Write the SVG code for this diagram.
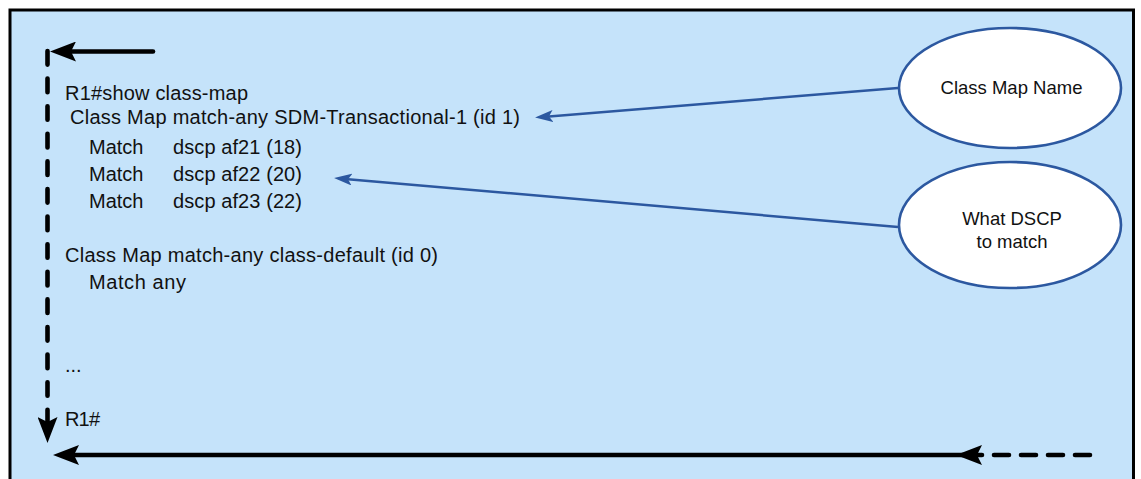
<svg xmlns="http://www.w3.org/2000/svg" width="1141" height="479" viewBox="0 0 1141 479">
  <style>
    .panel { fill: #c5e3fa; stroke: #000; stroke-width: 3; }
    .cli { font-family: "Liberation Sans", Arial, sans-serif; font-size: 20px; fill: #111; }
    .callout { fill: #fff; stroke: #2c58a0; stroke-width: 2.6; }
    .callout-text { font-family: "Liberation Sans", Arial, sans-serif; font-size: 18.5px; fill: #111; text-anchor: middle; }
    .flow { fill: none; stroke: #000; stroke-width: 4.6; stroke-linecap: round; }
    .flow-dash-v { stroke-dasharray: 13.6 14; }
    .flow-dash-h { stroke-dasharray: 15 12; }
    .pointer { fill: none; stroke: #2c58a0; stroke-width: 2.5; }
  </style>
  <defs>
    <marker id="head-black" markerUnits="userSpaceOnUse" markerWidth="26" markerHeight="20" viewBox="0 0 26 20" refX="5" refY="10" orient="auto">
      <path d="M26,10 L0,0 L5,10 L0,20 Z" fill="#000"/>
    </marker>
    <marker id="head-blue" markerUnits="userSpaceOnUse" markerWidth="18" markerHeight="12" viewBox="0 0 18 12" refX="4" refY="6" orient="auto">
      <path d="M18,6 L0,0 L4,6 L0,12 Z" fill="#2c58a0"/>
    </marker>
  </defs>

  <!-- background panel -->
  <rect class="panel" x="10" y="10" width="1123.5" height="500"/>

  <!-- console output -->
  <g id="console">
    <text class="cli" x="65" y="100" textLength="183">R1#show class-map</text>
    <text class="cli" x="70" y="124" textLength="450">Class Map match-any SDM-Transactional-1 (id 1)</text>
    <text class="cli" x="89" y="154">Match</text>
    <text class="cli" x="173" y="154" textLength="129">dscp af21 (18)</text>
    <text class="cli" x="89" y="181">Match</text>
    <text class="cli" x="173" y="181" textLength="129">dscp af22 (20)</text>
    <text class="cli" x="89" y="208">Match</text>
    <text class="cli" x="173" y="208" textLength="129">dscp af23 (22)</text>
    <text class="cli" x="65" y="262" textLength="373">Class Map match-any class-default (id 0)</text>
    <text class="cli" x="89" y="289" textLength="97">Match any</text>
    <text class="cli" x="65" y="372">...</text>
    <text class="cli" x="65" y="426" textLength="35">R1#</text>
  </g>

  <!-- callouts -->
  <g id="class-map-name">
    <ellipse class="callout" cx="1010" cy="88" rx="111" ry="60"/>
    <text class="callout-text" x="1011.5" y="94">Class Map Name</text>
  </g>
  <g id="what-dscp">
    <ellipse class="callout" cx="1010" cy="225" rx="111" ry="63"/>
    <text class="callout-text" x="1012" y="225">What DSCP</text>
    <text class="callout-text" x="1012" y="248">to match</text>
  </g>

  <!-- connectors -->
  <g id="connectors">
    <line class="pointer" x1="898" y1="88" x2="549" y2="116.4" marker-end="url(#head-blue)"/>
    <line class="pointer" x1="898" y1="227" x2="348" y2="179.2" marker-end="url(#head-blue)"/>

    <!-- command flow: top entry, down the side, back along the bottom -->
    <line class="flow" x1="153" y1="51.5" x2="71" y2="51.5" marker-end="url(#head-black)"/>
    <line class="flow flow-dash-v" x1="47.5" y1="51" x2="47.5" y2="422" marker-end="url(#head-black)"/>
    <line class="flow flow-dash-h" x1="1090" y1="455" x2="977" y2="455" marker-end="url(#head-black)"/>
    <line class="flow" x1="965" y1="455" x2="74" y2="455" marker-end="url(#head-black)"/>
  </g>
</svg>
